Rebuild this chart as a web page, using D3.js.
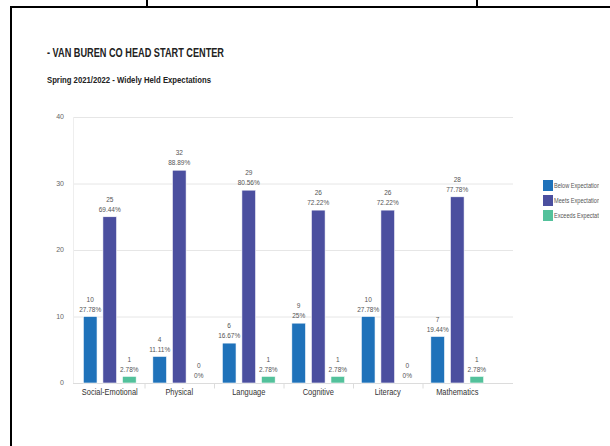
<!DOCTYPE html>
<head>
<title>Van Buren Co Head Start Center</title>
<style>
body { margin: 0; background: #fff; }
</style>
</head>
<div id="container"></div>
<script src="https://d3js.org/d3.v7.min.js"></script>
<script>
// Data
const categories = ["Social-Emotional", "Physical", "Language", "Cognitive", "Literacy", "Mathematics"];
const series = ["Below Expectations", "Meets Expectations", "Exceeds Expectations"];
const below = [10, 4, 6, 9, 10, 7];
const meets = [25, 32, 29, 26, 26, 28];
const exceeds = [1, 0, 1, 1, 0, 1];
const belowPct = ["27.78%", "11.11%", "16.67%", "25%", "27.78%", "19.44%"];
const meetsPct = ["69.44%", "88.89%", "80.56%", "72.22%", "72.22%", "77.78%"];
const exceedsPct = ["2.78%", "0%", "2.78%", "2.78%", "0%", "2.78%"];
const yTicks = [0, 10, 20, 30, 40];

const colors = ["#1f72ba", "#4b4f9f", "#53c19b"];

const width = 610;
const height = 446;
const marginTop = 117;
const marginBottom = 63;   // y=0 at 383
const plotLeft = 73;
const plotRight = 513;

const values = [below, meets, exceeds];
const pcts = [belowPct, meetsPct, exceedsPct];

// Table of bars built from the arrays
const bars = [];
categories.forEach((c, i) => {
    series.forEach((s, j) => {
        bars.push({cat: c, series: s, value: values[j][i], pct: pcts[j][i], color: colors[j]});
    });
});

const x0 = d3.scaleBand()
    .domain(categories)
    .range([75, 492]);

const x1 = d3.scaleBand()
    .domain(series)
    .range([x0.bandwidth() * 0.12, x0.bandwidth() * 0.88])
    .paddingInner(0.3);

const y = d3.scaleLinear()
    .domain([0, 40])
    .range([height - marginBottom, marginTop]);

const svg = d3.create("svg")
    .attr("width", width)
    .attr("height", height)
    .style("font-family", "'Liberation Sans', Arial, sans-serif");

// Frame lines of the page around the chart
const frame = svg.append("g").attr("stroke", "#000").attr("stroke-width", 2);
frame.append("line").attr("x1", 11).attr("x2", width).attr("y1", 7).attr("y2", 7);
frame.append("line").attr("x1", 11).attr("x2", 11).attr("y1", 6).attr("y2", height);
frame.append("line").attr("x1", 147).attr("x2", 147).attr("y1", 0).attr("y2", 7);
frame.append("line").attr("x1", 477).attr("x2", 477).attr("y1", 0).attr("y2", 7);

// Titles
svg.append("text")
    .attr("x", 47)
    .attr("y", 57)
    .attr("font-weight", "bold")
    .attr("font-size", 12)
    .attr("fill", "#222")
    .attr("textLength", 177)
    .attr("lengthAdjust", "spacingAndGlyphs")
    .text("- VAN BUREN CO HEAD START CENTER");

svg.append("text")
    .attr("x", 47)
    .attr("y", 83)
    .attr("font-weight", "bold")
    .attr("font-size", 8.5)
    .attr("fill", "#222")
    .attr("textLength", 164)
    .attr("lengthAdjust", "spacingAndGlyphs")
    .text("Spring 2021/2022 - Widely Held Expectations");

// Gridlines
svg.append("g")
    .selectAll("line")
    .data(yTicks)
    .join("line")
    .attr("x1", plotLeft)
    .attr("x2", plotRight)
    .attr("y1", d => y(d) + 0.5)
    .attr("y2", d => y(d) + 0.5)
    .attr("stroke", "#e6e6e6");

// faint y axis line
svg.append("line")
    .attr("x1", plotLeft + 0.5).attr("x2", plotLeft + 0.5)
    .attr("y1", y(40)).attr("y2", y(0))
    .attr("stroke", "#eeeeee");

// Y tick labels
svg.append("g")
    .selectAll("text")
    .data(yTicks)
    .join("text")
    .attr("x", 64)
    .attr("y", d => y(d))
    .attr("dy", "0.35em")
    .attr("text-anchor", "end")
    .attr("font-size", 7)
    .attr("fill", "#666")
    .text(d => d);

// x axis: baseline, separators and labels
const xAxis = svg.append("g")
    .attr("transform", `translate(0,${y(0) + 0.5})`);
xAxis.append("line")
    .attr("x1", plotLeft).attr("x2", plotRight)
    .attr("stroke", "#dcdcdc");
xAxis.selectAll(".sep")
    .data(categories.slice(1))
    .join("line")
    .attr("class", "sep")
    .attr("x1", d => x0(d) + 0.5)
    .attr("x2", d => x0(d) + 0.5)
    .attr("y1", 0).attr("y2", 5)
    .attr("stroke", "#dcdcdc");
xAxis.selectAll(".lab")
    .data(categories)
    .join("text")
    .attr("class", "lab")
    .attr("transform", d => `translate(${x0(d) + x0.bandwidth() / 2},9) scale(0.9,1)`)
    .attr("dy", "0.35em")
    .attr("text-anchor", "middle")
    .attr("font-size", 8.3)
    .attr("fill", "#333")
    .text(d => d);

// Bars
const g = svg.append("g");
g.selectAll("rect")
    .data(bars)
    .join("rect")
    .attr("x", d => x0(d.cat) + x1(d.series))
    .attr("y", d => y(d.value))
    .attr("width", x1.bandwidth())
    .attr("height", d => y(0) - y(d.value))
    .attr("fill", d => d.color)
    .attr("stroke", "#fff")
    .attr("stroke-width", 0.6);

// Data labels: count and percentage
g.selectAll(".cnt")
    .data(bars)
    .join("text")
    .attr("class", "cnt")
    .attr("x", d => x0(d.cat) + x1(d.series) + x1.bandwidth() / 2)
    .attr("y", d => y(d.value) - 17)
    .attr("dy", "0.35em")
    .attr("text-anchor", "middle")
    .attr("font-size", 6.5)
    .attr("fill", "#555")
    .text(d => d.value);

g.selectAll(".pct")
    .data(bars)
    .join("text")
    .attr("class", "pct")
    .attr("x", d => x0(d.cat) + x1(d.series) + x1.bandwidth() / 2)
    .attr("y", d => y(d.value) - 7)
    .attr("dy", "0.35em")
    .attr("text-anchor", "middle")
    .attr("font-size", 6.5)
    .attr("fill", "#555")
    .text(d => d.pct);

// Legend, clipped at the right as in the original
svg.append("clipPath")
    .attr("id", "legclip")
    .append("rect")
    .attr("x", 530).attr("y", 170).attr("width", 69).attr("height", 60);

const legend = svg.append("g")
    .attr("clip-path", "url(#legclip)")
    .selectAll("g")
    .data(series)
    .join("g")
    .attr("transform", (d, i) => `translate(543,${180 + i * 15})`);

legend.append("rect")
    .attr("width", 10)
    .attr("height", 11)
    .attr("fill", (d, i) => colors[i]);

legend.append("text")
    .attr("transform", "translate(11,5.5) scale(0.85,1)")
    .attr("dy", "0.35em")
    .attr("font-size", 6.6)
    .attr("fill", "#555")
    .text(d => d);

container.append(svg.node());
</script>
